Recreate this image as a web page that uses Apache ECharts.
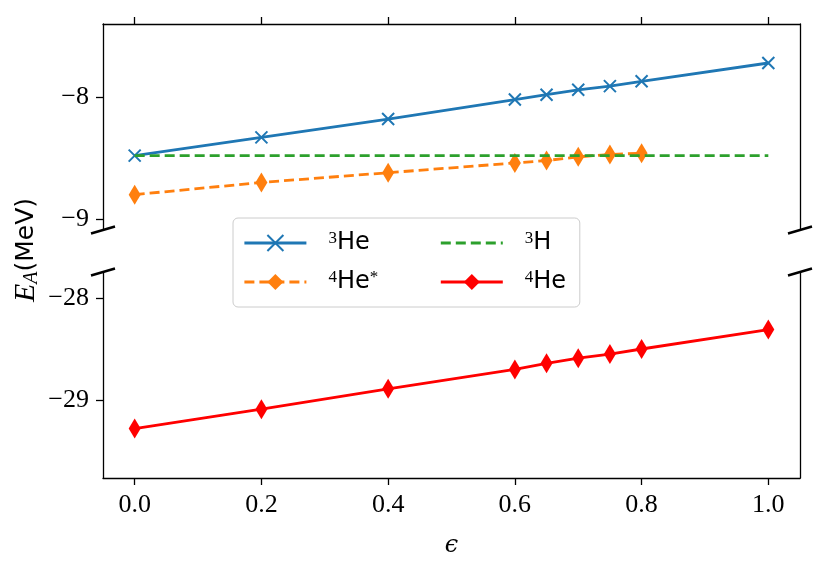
<!DOCTYPE html>
<html>
<head>
<meta charset="utf-8">
<script src="https://cdn.jsdelivr.net/npm/echarts@6/dist/echarts.min.js"></script>
<style>
  html, body { margin: 0; padding: 0; background: #fff; }
  #chart { width: 835px; height: 572px; }
</style>
</head>
<body>
<div id="chart"></div>
<script>
// epsilon values on the x axis
const eps = [0, 0.2, 0.4, 0.6, 0.65, 0.7, 0.75, 0.8, 1.0];
// binding energies (MeV)
const he3 = [-8.48, -8.33, -8.18, -8.02, -7.98, -7.94, -7.91, -7.87, -7.72];
const h3 = [-8.48, -8.48, -8.48, -8.48, -8.48, -8.48, -8.48, -8.48, -8.48];
const he4star = [-8.80, -8.70, -8.62, -8.54, -8.52, -8.49, -8.47, -8.46]; // up to eps = 0.8
const he4 = [-29.28, -29.09, -28.89, -28.70, -28.64, -28.59, -28.55, -28.50, -28.31];

const xTicks = [0, 0.2, 0.4, 0.6, 0.8, 1.0];
const yTicksTop = [-9, -8];
const yTicksBottom = [-29, -28];

const blue = "#1f77b4", orange = "#ff7f0e", green = "#2ca02c", red = "#ff0000";
const serif = "'Liberation Serif', 'DejaVu Serif', serif";
const sans = "'DejaVu Sans', sans-serif";

const L = 103, R = 35, W = 835 - L - R;
const topTop = 24, topH = 206, botTop = 272, botH = 206;

const pairs = (ys) => ys.map((y, i) => [eps[i], y]);
const xMark = "path://M0,0L10,10M10,0L0,10";
const minus = (v) => String(v).replace("-", "\u2212");

function xAxisCfg(grid, pos, labels) {
  return {
    type: "value", gridIndex: grid, position: pos, min: -0.05, max: 1.05,
    axisLine: { show: true, onZero: false, lineStyle: { color: "#000", width: 1.3 } },
    axisTick: { show: true, customValues: xTicks, length: 7, lineStyle: { color: "#000", width: 1.3 } },
    axisLabel: labels
      ? { show: true, customValues: xTicks, margin: 14, color: "#000", fontFamily: serif, fontSize: 26,
          formatter: (v) => v.toFixed(1) }
      : { show: false },
    splitLine: { show: false },
  };
}

function yAxisCfg(grid, min, max, ticks, side) {
  const left = side === "left";
  return {
    type: "value", gridIndex: grid, position: side, min: min, max: max,
    axisLine: { show: true, onZero: false, lineStyle: { color: "#000", width: 1.3 } },
    axisTick: left ? { show: true, customValues: ticks, length: 7, lineStyle: { color: "#000", width: 1.3 } } : { show: false },
    axisLabel: left
      ? { show: true, customValues: ticks, margin: 14, color: "#000", fontFamily: serif, fontSize: 26, formatter: minus }
      : { show: false },
    splitLine: { show: false },
  };
}

const supStyle = { fontFamily: serif, fontSize: 17, lineHeight: 14, verticalAlign: "top", color: "#000" };
const labels = {
  He3: "{sup|3}{t|He}",
  H3: "{sup|3}{t|H}",
  He4s: "{sup|4}{t|He}{sup|*}",
  He4: "{sup|4}{t|He}",
};

const chart = echarts.init(document.getElementById("chart"), null, { renderer: "canvas" });

const brk = (x, y) => ({
  type: "line",
  shape: { x1: x - 12, y1: y + 3.5, x2: x + 12, y2: y - 3.5 },
  style: { stroke: "#000", lineWidth: 2.5 },
  z: 100,
});

chart.setOption({
  animation: false,
  backgroundColor: "#fff",
  grid: [
    { left: L, width: W, top: topTop, height: topH },
    { left: L, width: W, top: botTop, height: botH },
  ],
  xAxis: [
    xAxisCfg(0, "top", false),
    Object.assign(xAxisCfg(1, "bottom", true), {
      name: "\u03f5", nameLocation: "middle", nameGap: 56,
      nameTextStyle: { fontFamily: "'DejaVu Serif', serif", fontStyle: "italic", fontSize: 24, color: "#000" },
    }),
  ],
  yAxis: [
    yAxisCfg(0, -9.09, -7.40, yTicksTop, "left"),
    yAxisCfg(0, -9.09, -7.40, yTicksTop, "right"),
    yAxisCfg(1, -29.765, -27.745, yTicksBottom, "left"),
    yAxisCfg(1, -29.765, -27.745, yTicksBottom, "right"),
  ],
  legend: {
    left: 233, top: 218, width: 360,
    orient: "horizontal",
    padding: [12, 5, 12, 10],
    itemWidth: 62, itemHeight: 20, itemGap: 13,
    backgroundColor: "rgba(255,255,255,0.8)",
    borderColor: "#cccccc", borderWidth: 1, borderRadius: 5,
    lineStyle: { width: 2.8 },
    data: [
      { name: "He3", textStyle: { width: 98 } },
      { name: "H3", textStyle: { width: 50 }, itemStyle: { opacity: 0 } },
      { name: "He4s", textStyle: { width: 98 } },
      { name: "He4", textStyle: { width: 50 } },
    ],
    formatter: (name) => labels[name],
    textStyle: {
      padding: [0, 0, 0, 17], lineHeight: 26, color: "#000",
      rich: {
        sup: supStyle,
        t: { fontFamily: sans, fontSize: 24, lineHeight: 26, color: "#000" },
      },
    },
  },
  graphic: [
    brk(L, topTop + topH), brk(L + W, topTop + topH),
    brk(L, botTop), brk(L + W, botTop),
    {
      type: "text", x: 26, y: 250, rotation: Math.PI / 2,
      style: {
        text: "{e|E}{sub|A}{m|(MeV)}",
        align: "center", verticalAlign: "middle",
        rich: {
          e: { fontFamily: serif, fontStyle: "italic", fontSize: 30, fill: "#000" },
          sub: { fontFamily: serif, fontStyle: "italic", fontSize: 20, fill: "#000", verticalAlign: "bottom", padding: [12, 0, 0, 0] },
          m: { fontFamily: sans, fontSize: 25, fill: "#000" },
        },
      },
    },
  ],
  series: [
    {
      name: "He3", type: "line", xAxisIndex: 0, yAxisIndex: 0, data: pairs(he3),
      color: blue, lineStyle: { color: blue, width: 2.8 },
      symbol: xMark, symbolSize: 12,
      itemStyle: { color: blue, borderColor: blue, borderWidth: 2 },
      z: 3,
    },
    {
      name: "He4s", type: "line", xAxisIndex: 0, yAxisIndex: 0, data: pairs(he4star),
      color: orange, lineStyle: { color: orange, width: 2.8, type: [10, 5] },
      symbol: "diamond", symbolSize: [12, 20],
      itemStyle: { color: orange },
      z: 4,
    },
    {
      name: "H3", type: "line", xAxisIndex: 0, yAxisIndex: 0, data: pairs(h3),
      color: green, lineStyle: { color: green, width: 2.8, type: [10, 5] },
      symbol: "none",
      z: 5,
    },
    {
      name: "He4", type: "line", xAxisIndex: 1, yAxisIndex: 2, data: pairs(he4),
      color: red, lineStyle: { color: red, width: 2.8 },
      symbol: "diamond", symbolSize: [12, 20],
      itemStyle: { color: red },
      z: 3,
    },
  ],
});
</script>
</body>
</html>
